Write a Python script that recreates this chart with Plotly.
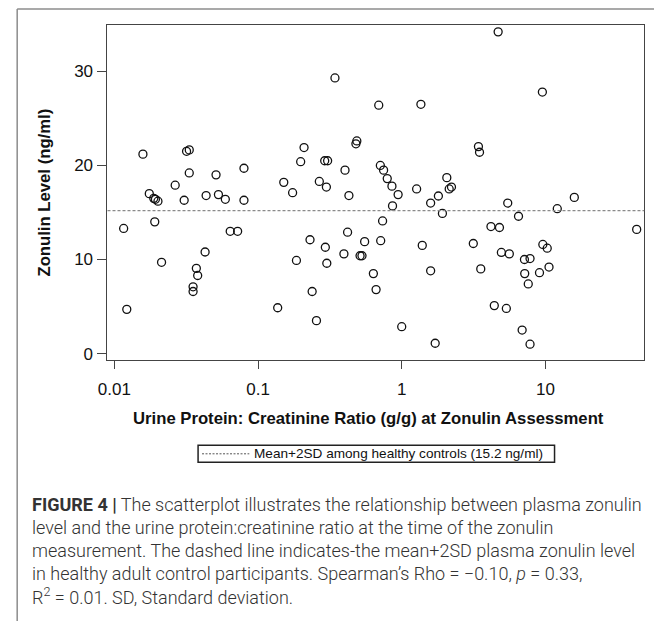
import plotly.graph_objects as go

W, H = 654, 624

# ---- data ----
urine_pcr = [
    0.0158, 0.0318, 0.0332, 0.0332, 0.0265, 0.0175, 0.0188, 0.0193, 0.0201, 0.0306,
    0.0435, 0.051, 0.053, 0.0592, 0.0798, 0.0798, 0.0116, 0.0191, 0.064, 0.0721,
    0.0428, 0.0213, 0.0372, 0.038, 0.0353, 0.0353, 0.0122, 0.137,
    0.151, 0.209, 0.487, 0.480, 0.198, 0.291, 0.305, 0.403, 0.174, 0.267,
    0.299, 0.429, 0.710, 0.748, 0.793, 0.855, 0.944, 0.863, 1.27, 2.06,
    2.14, 2.22, 1.80, 1.59, 1.92, 0.736, 0.230, 0.294, 0.420, 0.552,
    0.714, 0.396, 0.513, 0.529, 0.185, 0.301, 1.39, 1.59, 0.635, 0.663,
    0.238, 0.255, 1.0, 1.71, 0.343, 0.692, 1.36,
    4.69, 9.53, 3.42, 3.48, 5.47, 6.50, 12.1, 15.9, 4.18, 4.79,
    43.2, 3.15, 4.94, 5.61, 9.60, 10.3, 7.15, 7.82, 3.55, 7.18,
    9.10, 10.6, 7.60, 4.41, 5.35, 6.89, 7.82,
]
zonulin = [
    21.2, 21.5, 21.65, 19.2, 17.9, 17.0, 16.5, 16.4, 16.2, 16.3,
    16.8, 19.0, 16.9, 16.4, 19.7, 16.3, 13.3, 14.0, 13.0, 13.0,
    10.8, 9.7, 9.06, 8.3, 7.1, 6.6, 4.7, 4.87,
    18.2, 21.9, 22.6, 22.3, 20.4, 20.5, 20.5, 19.5, 17.1, 18.3,
    17.7, 16.8, 20.0, 19.5, 18.6, 17.8, 16.9, 15.7, 17.5, 18.7,
    17.5, 17.7, 16.75, 16.0, 14.9, 14.1, 12.1, 11.3, 12.9, 11.9,
    12.0, 10.6, 10.4, 10.4, 9.9, 9.6, 11.5, 8.8, 8.5, 6.8,
    6.6, 3.5, 2.86, 1.1, 29.3, 26.4, 26.5,
    34.2, 27.8, 22.0, 21.4, 16.0, 14.6, 15.4, 16.6, 13.5, 13.4,
    13.2, 11.7, 10.75, 10.6, 11.6, 11.2, 10.0, 10.1, 9.0, 8.5,
    8.6, 9.2, 7.4, 5.1, 4.8, 2.5, 1.0,
]
healthy_cutoff = 15.2
x_ticks = [0.01, 0.1, 1, 10]
x_tick_labels = ["0.01", "0.1", "1", "10"]
y_ticks = [0, 10, 20, 30]

x_title = "Urine Protein: Creatinine Ratio (g/g) at Zonulin Assessment"
y_title = "Zonulin Level (ng/ml)"
legend_label = "Mean+2SD among healthy controls (15.2 ng/ml)"
caption_lines = [
    "<b>FIGURE 4 |</b> The scatterplot illustrates the relationship between plasma zonulin",
    "level and the urine protein:creatinine ratio at the time of the zonulin",
    "measurement. The dashed line indicates-the mean+2SD plasma zonulin level",
    "in healthy adult control participants. Spearman’s Rho = −0.10, <i>p</i> = 0.33,",
    "R<sup>2</sup> = 0.01. SD, Standard deviation.",
]

# ---- geometry helpers (pixel -> paper) ----
def px(x):
    return x / W

def py(y):
    return 1 - y / H

plot_l, plot_r, plot_t, plot_b = 99, 644, 25, 362

fig = go.Figure()
fig.add_trace(go.Scatter(
    x=urine_pcr, y=zonulin, mode="markers",
    marker=dict(symbol="circle-open", size=8, color="#111111", line=dict(width=1.3)),
    showlegend=False, hoverinfo="x+y",
))

# threshold line through the library's y scale
fig.add_shape(type="line", xref="x domain", yref="y", x0=0, x1=1,
              y0=healthy_cutoff, y1=healthy_cutoff,
              line=dict(color="#8a8a8a", width=1.2, dash="3px,2px"))

axis_common = dict(showline=True, linecolor="#444444", linewidth=1, mirror=True,
                   ticks="outside", tickcolor="#444444", tickwidth=1,
                   showgrid=False, zeroline=False,
                   tickfont=dict(family="Liberation Sans, Arial", size=17, color="#111111"))

fig.update_layout(
    width=W, height=H,
    margin=dict(l=0, r=0, t=0, b=0),
    paper_bgcolor="white", plot_bgcolor="white",
    xaxis=dict(type="log", range=[-2.048, 1.6875],
               domain=[px(plot_l), px(plot_r)],
               tickvals=x_ticks, ticktext=x_tick_labels, ticklen=8,
               ticklabelstandoff=5, anchor="y", **axis_common),
    yaxis=dict(range=[-0.71, 34.94],
               domain=[py(plot_b), py(plot_t)],
               tickvals=y_ticks, ticklen=9, ticklabelstandoff=1,
               anchor="x", **axis_common),
    showlegend=False,
)

# axis titles
fig.add_annotation(x=px(364), y=py(421), xref="paper", yref="paper",
                   text=f"<b>{x_title}</b>", showarrow=False,
                   font=dict(family="Liberation Sans, Arial", size=16.7, color="#111111"),
                   xanchor="center", yanchor="middle")
fig.add_annotation(x=px(35), y=py(193), xref="paper", yref="paper",
                   text=f"<b>{y_title}</b>", showarrow=False, textangle=-90,
                   font=dict(family="Liberation Sans, Arial", size=16.7, color="#111111"),
                   xanchor="center", yanchor="middle")

# legend box
fig.add_shape(type="rect", xref="paper", yref="paper",
              x0=px(191), x1=px(553), y0=py(464.5), y1=py(447.5),
              line=dict(color="#222222", width=1.5), fillcolor="white")
fig.add_shape(type="line", xref="paper", yref="paper",
              x0=px(195), x1=px(243), y0=py(456), y1=py(456),
              line=dict(color="#555555", width=1, dash="2px,1.5px"))
fig.add_annotation(x=px(246), y=py(456), xref="paper", yref="paper",
                   text=legend_label, showarrow=False,
                   font=dict(family="Liberation Sans, Arial", size=13.6, color="#111111"),
                   xanchor="left", yanchor="middle")

# outer frame (left and top edges visible)
fig.add_shape(type="line", xref="paper", yref="paper",
              x0=px(7.3), x1=px(7.3), y0=py(9), y1=0,
              line=dict(color="#8c8c8c", width=1.5))
fig.add_shape(type="line", xref="paper", yref="paper",
              x0=px(7.3), x1=1, y0=py(9), y1=py(9),
              line=dict(color="#8c8c8c", width=1.5))

# caption
cap_y = [507, 530, 553, 576, 598.5]
for line, yc in zip(caption_lines, cap_y):
    fig.add_annotation(x=px(20), y=py(yc), xref="paper", yref="paper",
                       text=line, showarrow=False,
                       font=dict(family="Roboto, Liberation Sans", size=18, color="#333333", weight=300),
                       xanchor="left", yanchor="middle")

fig.write_html("out.html")
